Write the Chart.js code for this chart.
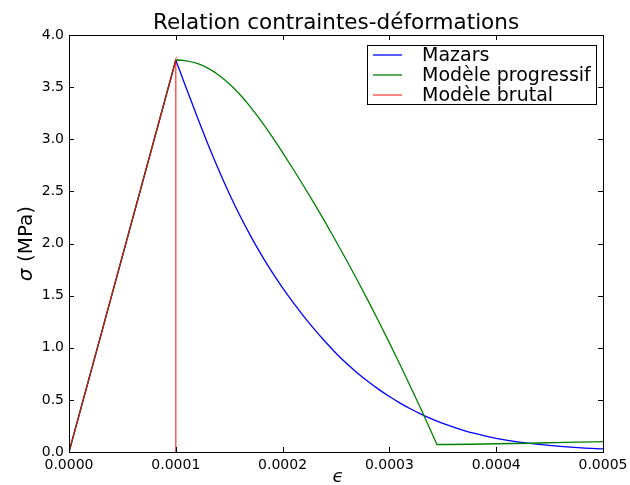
<!DOCTYPE html>
<html>
<head>
<meta charset="utf-8">
<title>Relation contraintes-déformations</title>
<script src="https://cdn.jsdelivr.net/npm/chart.js@4.4.0/dist/chart.umd.min.js"></script>
<style>
  body { margin: 0; background: #ffffff; }
</style>
</head>
<body>
<canvas id="myChart" width="630" height="485"></canvas>
<script>
// values (strain, stress in MPa)
const mazarsStrain = [0, 0.000099, 0.00010, 0.000101, 0.00011, 0.00012, 0.00013, 0.00014, 0.00015, 0.00016, 0.00017, 0.00018, 0.00019,
  0.00020, 0.00021, 0.00022, 0.00023, 0.00024, 0.00025, 0.00026, 0.00027, 0.00028, 0.00029, 0.00030,
  0.00031, 0.00032, 0.00033, 0.00034, 0.00035, 0.00036, 0.00037, 0.00038, 0.00039, 0.00040,
  0.00042, 0.00044, 0.00046, 0.00048, 0.00050];
const mazarsStress = [0, 3.722, 3.76, 3.732, 3.485, 3.215, 2.955, 2.71, 2.48, 2.268, 2.073, 1.893, 1.727,
  1.574, 1.432, 1.299, 1.174, 1.057, 0.948, 0.848, 0.758, 0.676, 0.601, 0.532,
  0.469, 0.412, 0.361, 0.315, 0.274, 0.238, 0.206, 0.178, 0.153, 0.131,
  0.098, 0.073, 0.054, 0.04, 0.03];

const progStrain = [0, 0.000099, 0.00010, 0.00011, 0.00012, 0.00013, 0.00014, 0.00015, 0.00016, 0.00017, 0.00018, 0.00019,
  0.00020, 0.00021, 0.00022, 0.00023, 0.00024, 0.00025, 0.00026, 0.00027, 0.00028, 0.00029, 0.00030,
  0.00031, 0.00032, 0.00033, 0.00034, 0.000344, 0.0003445, 0.00050];
const progStress = [0, 3.722, 3.76, 3.752, 3.727, 3.682, 3.617, 3.532, 3.429, 3.309, 3.174, 3.027,
  2.872, 2.712, 2.547, 2.377, 2.202, 2.022, 1.837, 1.647, 1.452, 1.252, 1.047,
  0.837, 0.622, 0.402, 0.175, 0.0835, 0.072, 0.10];

const brutalStrain = [0, 0.00010, 0.00010];
const brutalStress = [0, 3.76, 0];

const seriesNames = ["Mazars", "Modèle progressif", "Modèle brutal"];
const seriesColors = ["#0000ff", "#008000", "rgba(255, 0, 0, 0.75)"];

const xTickMin = 0, xTickMax = 0.0005, xTickStep = 0.0001;
const yTickMin = 0, yTickMax = 4.0, yTickStep = 0.5;

function toPoints(xs, ys) {
  return xs.map((x, i) => ({ x: x, y: ys[i] }));
}

const FONT = "DejaVu Sans";

const framePlugin = {
  id: "frameAndTicks",
  afterDraw(chart) {
    const ctx = chart.ctx;
    const area = chart.chartArea;
    const xScale = chart.scales.x;
    const yScale = chart.scales.y;
    ctx.save();
    ctx.strokeStyle = "#000000";
    ctx.lineWidth = 1;
    ctx.beginPath();
    xScale.ticks.forEach(t => {
      const px = Math.round(xScale.getPixelForValue(t.value)) + 0.5;
      ctx.moveTo(px, area.bottom);
      ctx.lineTo(px, area.bottom - 5);
      ctx.moveTo(px, area.top);
      ctx.lineTo(px, area.top + 5);
    });
    yScale.ticks.forEach(t => {
      const py = Math.round(yScale.getPixelForValue(t.value)) + 0.5;
      ctx.moveTo(area.left, py);
      ctx.lineTo(area.left + 5, py);
      ctx.moveTo(area.right, py);
      ctx.lineTo(area.right - 5, py);
    });
    ctx.stroke();
    ctx.strokeRect(Math.round(area.left) + 0.5, Math.round(area.top) + 0.5,
      Math.round(area.right - area.left), Math.round(area.bottom - area.top));

    // axis titles
    ctx.fillStyle = "#000000";
    ctx.textBaseline = "alphabetic";
    ctx.font = "italic 18px '" + FONT + "'";
    ctx.textAlign = "center";
    ctx.fillText("\u03f5", (area.left + area.right) / 2 + 2, 482);

    ctx.save();
    ctx.translate(32, (area.top + area.bottom) / 2);
    ctx.rotate(-Math.PI / 2);
    const sig = "\u03c3";
    const rest = " (MPa)";
    ctx.font = "italic 20px '" + FONT + "'";
    const w1 = ctx.measureText(sig).width;
    ctx.font = "20px '" + FONT + "'";
    const w2 = ctx.measureText(rest).width;
    ctx.textAlign = "left";
    ctx.font = "italic 20px '" + FONT + "'";
    ctx.fillText(sig, -(w1 + w2) / 2, 0);
    ctx.font = "20px '" + FONT + "'";
    ctx.fillText(rest, -(w1 + w2) / 2 + w1, 0);
    ctx.restore();

    // legend
    const boxRight = area.right - 7;
    const boxTop = area.top + 10;
    const boxW = 229, boxH = 59;
    const boxLeft = boxRight - boxW;
    ctx.fillStyle = "#ffffff";
    ctx.fillRect(boxLeft, boxTop, boxW, boxH);
    ctx.strokeStyle = "#000000";
    ctx.strokeRect(Math.round(boxLeft) + 0.5, Math.round(boxTop) + 0.5, boxW, boxH);
    ctx.font = "19px '" + FONT + "'";
    ctx.textAlign = "left";
    ctx.textBaseline = "middle";
    chart.data.datasets.forEach((ds, i) => {
      const cy = boxTop + 10 + i * 20;
      ctx.strokeStyle = ds.borderColor;
      ctx.lineWidth = 1.3;
      ctx.beginPath();
      ctx.moveTo(boxLeft + 6, cy);
      ctx.lineTo(boxLeft + 35, cy);
      ctx.stroke();
      ctx.fillStyle = "#000000";
      ctx.fillText(ds.label, boxLeft + 55, cy + 1);
    });
    ctx.restore();
  }
};

const ctx = document.getElementById("myChart");
new Chart(ctx, {
  type: "line",
  data: {
    datasets: [
      {
        label: seriesNames[0],
        data: toPoints(mazarsStrain, mazarsStress),
        borderColor: seriesColors[0],
        borderWidth: 1.3,
        cubicInterpolationMode: "monotone",
        order: 2,
      },
      {
        label: seriesNames[1],
        data: toPoints(progStrain, progStress),
        borderColor: seriesColors[1],
        borderWidth: 1.3,
        cubicInterpolationMode: "monotone",
        order: 1,
      },
      {
        label: seriesNames[2],
        data: toPoints(brutalStrain, brutalStress),
        borderColor: seriesColors[2],
        borderWidth: 1.3,
        tension: 0,
        order: 0,
      },
    ],
  },
  options: {
    responsive: false,
    animation: false,
    devicePixelRatio: 1,
    layout: {
      padding: { left: 0, right: 27, top: 0, bottom: 0 },
    },
    elements: {
      point: { radius: 0, hoverRadius: 0 },
      line: { fill: false },
    },
    plugins: {
      legend: { display: false },
      tooltip: { enabled: false },
      title: {
        display: true,
        fullSize: false,
        text: "Relation contraintes-déformations",
        color: "#000000",
        font: { family: FONT, size: 21.5, weight: "normal", lineHeight: 1 },
        padding: { top: 12.75, bottom: 0.75 },
      },
    },
    scales: {
      x: {
        type: "linear",
        min: xTickMin,
        max: xTickMax,
        grid: { display: false, drawTicks: false },
        border: { display: false },
        afterFit(scale) {
          scale.height = 33;
          scale.paddingLeft = 0;
          scale.paddingRight = 0;
        },
        ticks: {
          stepSize: xTickStep,
          padding: 5,
          color: "#000000",
          maxRotation: 0,
          font: { family: FONT, size: 14 },
          callback: v => Number(v).toFixed(4),
        },
      },
      y: {
        type: "linear",
        min: yTickMin,
        max: yTickMax,
        grid: { display: false, drawTicks: false },
        border: { display: false },
        afterFit(scale) {
          scale.width = 69;
          scale.paddingTop = 0;
          scale.paddingBottom = 0;
        },
        ticks: {
          stepSize: yTickStep,
          padding: 5,
          color: "#000000",
          font: { family: FONT, size: 14 },
          callback: v => Number(v).toFixed(1),
        },
      },
    },
  },
  plugins: [framePlugin],
});
</script>
</body>
</html>
